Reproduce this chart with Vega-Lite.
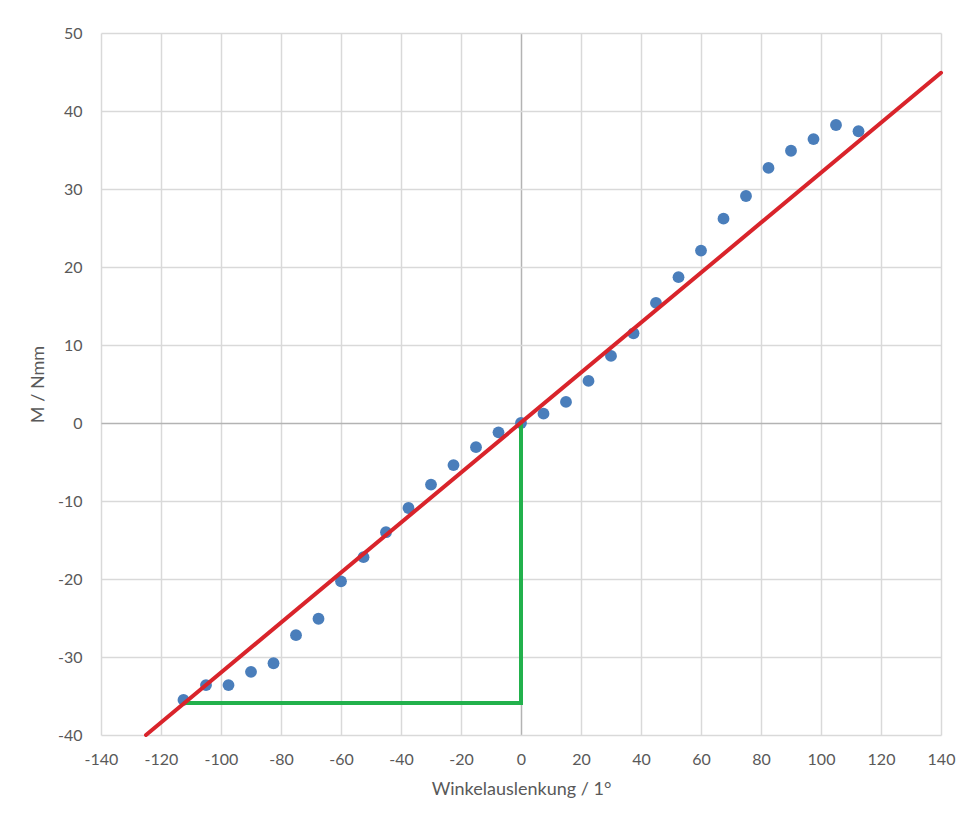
{
  "$schema": "https://vega.github.io/schema/vega-lite/v6.json",
  "width": 840,
  "height": 702,
  "autosize": {"type": "none"},
  "padding": {"left": 101, "top": 33, "right": 27, "bottom": 78},
  "background": "#ffffff",
  "view": {"stroke": null},
  "config": {
    "font": "Lato",
    "axis": {
      "labelColor": "#595959",
      "titleColor": "#595959",
      "labelFontSize": 16,
      "titleFontSize": 18,
      "titleFontWeight": "normal",
      "labelExpr": "datum.value + ''",
      "labelFlush": false,
      "labelOverlap": false,
      "labelBound": false,
      "domain": false,
      "ticks": false,
      "gridColor": {"condition": {"test": "datum.value === 0", "value": "#b3b3b3"}, "value": "#d9d9d9"},
      "gridWidth": 1.5
    }
  },
  "datasets": {
    "messung": [
      {"winkel": -112.5, "moment": -35.5},
      {"winkel": -105, "moment": -33.6},
      {"winkel": -97.5, "moment": -33.6},
      {"winkel": -90, "moment": -31.9},
      {"winkel": -82.5, "moment": -30.8},
      {"winkel": -75, "moment": -27.2},
      {"winkel": -67.5, "moment": -25.1},
      {"winkel": -60, "moment": -20.3},
      {"winkel": -52.5, "moment": -17.2},
      {"winkel": -45, "moment": -14.0},
      {"winkel": -37.5, "moment": -10.9},
      {"winkel": -30, "moment": -7.9},
      {"winkel": -22.5, "moment": -5.4},
      {"winkel": -15, "moment": -3.1},
      {"winkel": -7.5, "moment": -1.2},
      {"winkel": 0, "moment": 0},
      {"winkel": 7.5, "moment": 1.2},
      {"winkel": 15, "moment": 2.7},
      {"winkel": 22.5, "moment": 5.4},
      {"winkel": 30, "moment": 8.6},
      {"winkel": 37.5, "moment": 11.5},
      {"winkel": 45, "moment": 15.4},
      {"winkel": 52.5, "moment": 18.7},
      {"winkel": 60, "moment": 22.1},
      {"winkel": 67.5, "moment": 26.2},
      {"winkel": 75, "moment": 29.1},
      {"winkel": 82.5, "moment": 32.7},
      {"winkel": 90, "moment": 34.9},
      {"winkel": 97.5, "moment": 36.4},
      {"winkel": 105, "moment": 38.2},
      {"winkel": 112.5, "moment": 37.4}
    ],
    "steigung": [
      {"winkel": -112.5, "moment": -35.9, "ord": 1},
      {"winkel": 0, "moment": -35.9, "ord": 2},
      {"winkel": 0, "moment": 0, "ord": 3}
    ],
    "gerade": [
      {"winkel": -125, "moment": -40},
      {"winkel": 140, "moment": 44.9}
    ]
  },
  "encoding": {
    "x": {
      "field": "winkel",
      "type": "quantitative",
      "scale": {"domain": [-140, 140], "nice": false, "zero": false},
      "axis": {
        "title": "Winkelauslenkung / 1°",
        "values": [-140, -120, -100, -80, -60, -40, -20, 0, 20, 40, 60, 80, 100, 120, 140],
        "labelPadding": 16,
        "titlePadding": 13
      }
    },
    "y": {
      "field": "moment",
      "type": "quantitative",
      "scale": {"domain": [-40, 50], "nice": false, "zero": false},
      "axis": {
        "title": "M / Nmm",
        "values": [-40, -30, -20, -10, 0, 10, 20, 30, 40, 50],
        "labelPadding": 19,
        "titlePadding": 10
      }
    }
  },
  "layer": [
    {
      "data": {"name": "messung"},
      "mark": {"type": "circle", "size": 140, "color": "#4a7ebb", "opacity": 1}
    },
    {
      "data": {"name": "steigung"},
      "mark": {"type": "line", "color": "#22b14c", "strokeWidth": 4, "strokeCap": "butt"},
      "encoding": {"order": {"field": "ord"}}
    },
    {
      "data": {"name": "gerade"},
      "mark": {"type": "line", "color": "#d9242b", "strokeWidth": 4, "strokeCap": "round"},
      "encoding": {}
    }
  ]
}
